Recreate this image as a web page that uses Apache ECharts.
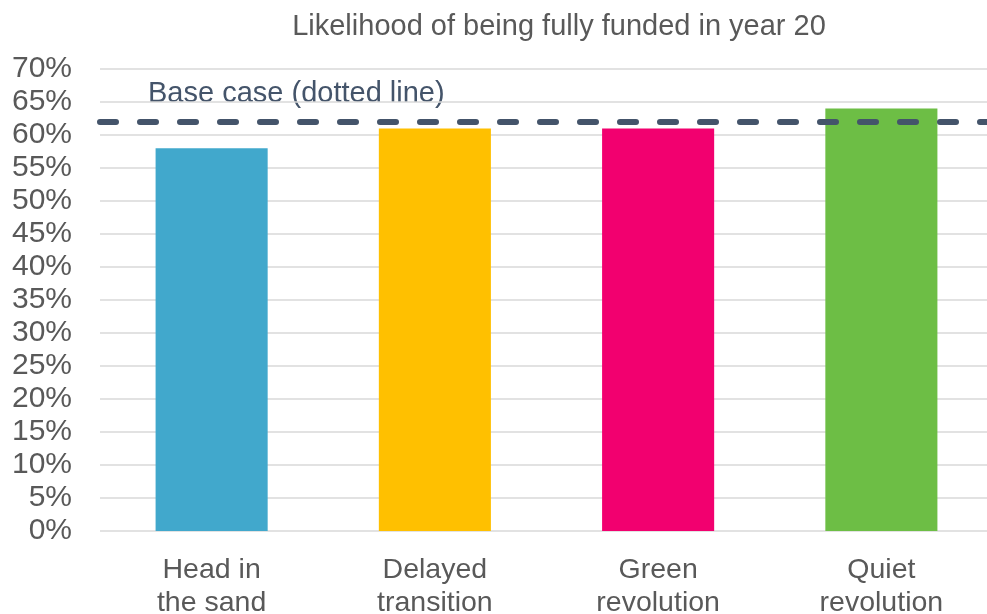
<!DOCTYPE html>
<html>
<head>
<meta charset="utf-8">
<script src="https://cdn.jsdelivr.net/npm/echarts@6/dist/echarts.min.js"></script>
<style>
html,body{margin:0;padding:0;background:#fff;}
#chart{width:987px;height:614px;}
</style>
</head>
<body>
<div id="chart"></div>
<script>
var categories = ['Head in\nthe sand', 'Delayed\ntransition', 'Green\nrevolution', 'Quiet\nrevolution'];
var values = [58, 61, 61, 64];
var barColors = ['#41A8CC', '#FFC000', '#F2006F', '#6DBE45'];
var baseCase = 62;
var titleText = 'Likelihood of being fully funded in year 20';
var baseCaseLabel = 'Base case (dotted line)';

var FONT = '"Liberation Sans", Arial, sans-serif';
var chart = echarts.init(document.getElementById('chart'), null, {renderer: 'canvas'});
chart.setOption({
  animation: false,
  title: {
    text: titleText,
    left: 554,
    top: 7,
    textAlign: 'center',
    textStyle: {fontFamily: FONT, fontSize: 29, fontWeight: 'normal', color: '#595959'}
  },
  grid: {left: 100, width: 893, top: 69, bottom: 83, containLabel: false, outerBoundsMode: 'none'},
  xAxis: {
    type: 'category',
    data: categories,
    axisLine: {show: false},
    axisTick: {show: false},
    axisLabel: {fontFamily: FONT, fontSize: 28.5, color: '#595959', lineHeight: 33, margin: 23, interval: 0}
  },
  yAxis: {
    type: 'value',
    min: 0, max: 70, interval: 5,
    axisLine: {show: false},
    axisTick: {show: false},
    axisLabel: {fontFamily: FONT, fontSize: 30, color: '#595959', formatter: '{value}%', margin: 28},
    splitLine: {lineStyle: {color: '#D9D9D9', width: 1.5}}
  },
  series: [{
    type: 'bar',
    data: values.map(function (v, i) { return {value: v, itemStyle: {color: barColors[i]}}; }),
    barWidth: '50.2%',
    markLine: {
      silent: true,
      symbol: 'none',
      label: {show: false},
      lineStyle: {color: '#44546A', width: 6, type: [16, 24], cap: 'round'},
      data: [{yAxis: baseCase}]
    }
  }],
  graphic: [{
    type: 'text',
    left: 148,
    top: 79,
    style: {text: baseCaseLabel, font: '29px ' + FONT, fill: '#44546A'}
  }]
});
</script>
</body>
</html>
